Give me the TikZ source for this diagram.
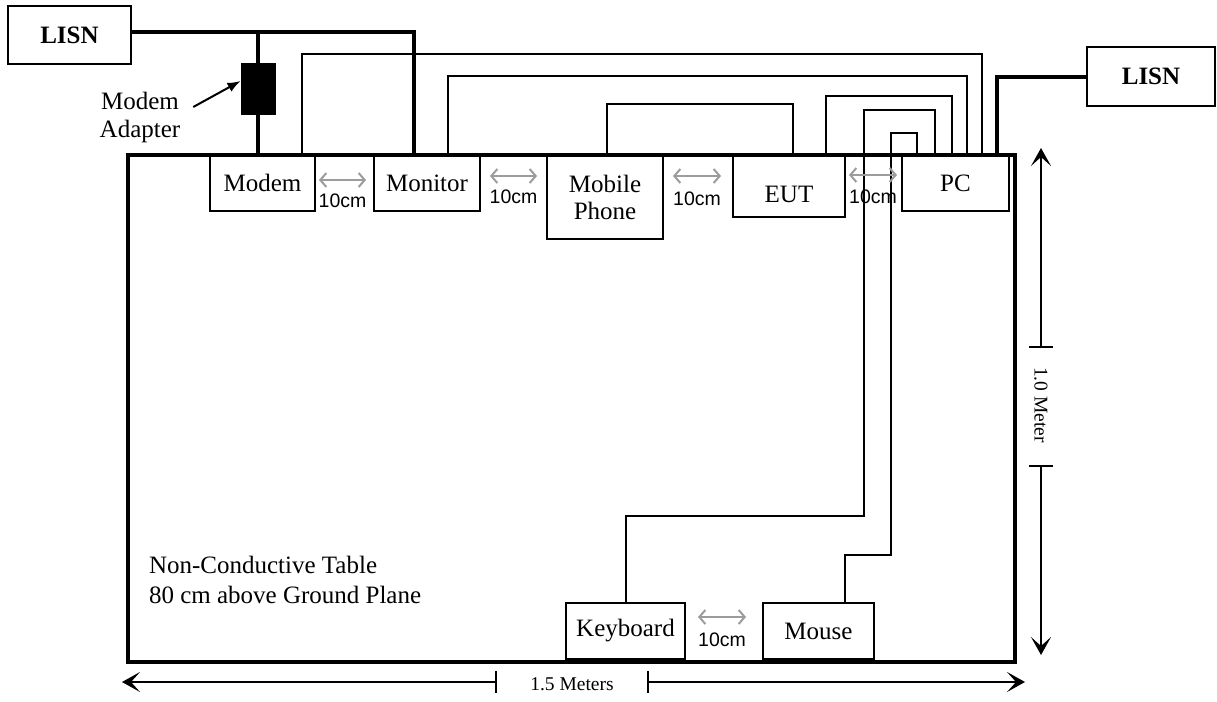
\documentclass[tikz,border=0pt]{standalone}
\usepackage{fontspec}
\setmainfont{Liberation Serif}
\newfontfamily\arialfont{Liberation Sans}
\usetikzlibrary{arrows.meta, calc}
\definecolor{cgap}{HTML}{9C9C9C}
\newcommand{\boxfont}{\fontsize{25}{27}\selectfont}
\newcommand{\dimfont}{\fontsize{19.5}{22}\selectfont}
\tikzset{
  every picture/.style={line width=2pt},
  box/.style={draw, line width=2pt, align=center, inner sep=0pt, font=\boxfont},
  tablebox/.style={draw, line width=4pt, minimum width=887pt, minimum height=507pt},
  cable/.style={line width=2pt},
  power/.style={line width=4pt},
  gap/.style={{Straight Barb[length=6pt,width=14pt]}-{Straight Barb[length=6pt,width=14pt]}, draw=cgap, line width=2pt},
  gaplabel/.style={font=\arialfont\dimfont, inner sep=0pt},
  dim/.style={-{Stealth[length=18pt,width=20pt,inset=9pt]}, line width=2pt},
  dimbar/.style={line width=2pt},
  pointer/.style={-{Latex[length=13pt,width=10pt]}, line width=2pt},
}

\begin{document}
\begin{tikzpicture}[x=1pt, y=-1pt]
  \useasboundingbox (0,0) rectangle (1217,701);
  \node[tablebox] (table) at (571.5,408.5) {};
  \node[box, minimum width=123pt, minimum height=58pt, font=\boxfont\bfseries] (lisnL) at (69.5,35) {LISN};
  \node[box, minimum width=128pt, minimum height=59pt, font=\boxfont\bfseries] (lisnR) at (1151,76.5) {LISN};
  \node[box, minimum width=105pt, minimum height=56pt] (modem) at (262.5,183) {Modem};
  \node[box, minimum width=106pt, minimum height=56pt] (monitor) at (427,183) {Monitor};
  \node[box, minimum width=116pt, minimum height=84pt] (phone) at (605,197) {Mobile\\Phone};
  \node[box, minimum width=112pt, minimum height=62pt, text height=33pt, text depth=0pt] (eut) at (789,186) {EUT};
  \node[box, minimum width=107pt, minimum height=56pt] (pc) at (955.5,183) {PC};
  \node[box, minimum width=119pt, minimum height=56pt] (keyboard) at (625.5,631) {Keyboard};
  \node[box, minimum width=111pt, minimum height=56pt] (mouse) at (818.5,631) {Mouse};
  \node[draw, fill=black, minimum width=33pt, minimum height=50pt, inner sep=0pt] (adapter) at (258,89) {};
  \node[align=center, inner sep=0pt, font=\fontsize{25}{28}\selectfont] (adlabel) at (140,117.5) {Modem\\Adapter};
  \node[align=left, anchor=west, inner sep=0pt, font=\fontsize{25}{30}\selectfont] (tablelabel) at (148,580) {Non-Conductive Table\\80 cm above Ground Plane};
  \coordinate (tap) at (258,32);
  \draw[power] ([yshift=3pt]lisnL.east) -| ([xshift=-13pt]monitor.north);
  \draw[power] (tap) -- (adapter.north);
  \draw[power] (adapter.south) -- (adapter.south |- modem.north);
  \draw[power] (lisnR.west) -| ([xshift=41.5pt]pc.north);
  \draw[cable] ([xshift=39.5pt]modem.north) -- ++(0,-100) -| ([xshift=26.5pt]pc.north);
  \draw[cable] ([xshift=21pt]monitor.north) -- ++(0,-78) -| ([xshift=11.5pt]pc.north);
  \draw[cable] ([xshift=2pt]phone.north) -- ++(0,-50) -| ([xshift=4pt]eut.north);
  \draw[cable] ([xshift=37pt]eut.north) -- ++(0,-58) -| ([xshift=-3.5pt]pc.north);
  \draw[cable] (keyboard.north) -- ++(0,-86) -- ++(238.5,0) -- ++(0,-406) -| ([xshift=-20.5pt]pc.north);
  \draw[cable] ([xshift=26.5pt]mouse.north) -- ++(0,-47) -- ++(46,0) -- ++(0,-422) -| ([xshift=-38.5pt]pc.north);
  \draw[pointer] ([xshift=12pt,yshift=10.5pt]adlabel.east) -- ([yshift=8pt]adapter.west);
  \draw[gap] ([xshift=3pt]modem.east |- 0,180) -- ([xshift=-7pt]monitor.west |- 0,180) node[midway, gaplabel, yshift=-21pt] {10cm};
  \draw[gap] ([xshift=9pt]monitor.east |- 0,176) -- ([xshift=-9pt]phone.west |- 0,176) node[midway, gaplabel, yshift=-21pt] {10cm};
  \draw[gap] ([xshift=9pt]phone.east |- 0,176) -- ([xshift=-11pt]eut.west |- 0,176) node[midway, gaplabel, yshift=-23pt] {10cm};
  \draw[gap] ([xshift=3pt]eut.east |- 0,175) -- ([xshift=-4pt]pc.west |- 0,175) node[midway, gaplabel, yshift=-22pt] {10cm};
  \draw[gap] ([xshift=12pt]keyboard.east |- 0,617) -- ([xshift=-16pt]mouse.west |- 0,617) node[midway, gaplabel, yshift=-23pt] {10cm};
  \node[rotate=-90, font=\dimfont, inner sep=0pt] (heightlbl) at (1041,405) {1.0 Meter};
  \draw[dim] (1041,347) -- (1041,148);
  \draw[dim] (1041,466) -- (1041,655);
  \draw[dimbar] (1029,347) -- (1053,347);
  \draw[dimbar] (1029,466) -- (1053,466);
  \node[font=\dimfont, inner sep=0pt] (widthlbl) at (572,684) {1.5 Meters};
  \draw[dim] (496,682) -- (122,682);
  \draw[dim] (648,682) -- (1025,682);
  \draw[dimbar] (496,671) -- (496,693);
  \draw[dimbar] (648,671) -- (648,693);
\end{tikzpicture}
\end{document}
